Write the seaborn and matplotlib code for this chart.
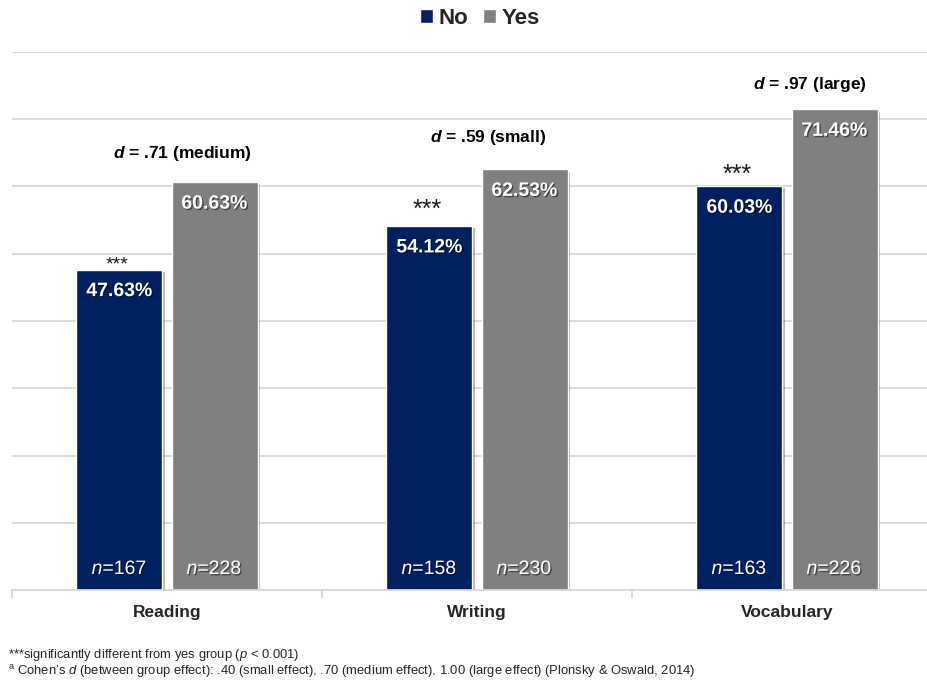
import matplotlib
matplotlib.use('Agg')
import matplotlib.pyplot as plt
import matplotlib.patheffects as pe
import seaborn as sns
import pandas as pd

# Data
skills = ['Reading', 'Writing', 'Vocabulary']
groups = ['No', 'Yes']
pct_no = [47.63, 54.12, 60.03]
pct_yes = [60.63, 62.53, 71.46]
n_no = [167, 158, 163]
n_yes = [228, 230, 226]
effect_d = ['.71 (medium)', '.59 (small)', '.97 (large)']
palette = {'No': '#002060', 'Yes': '#808080'}

df = pd.DataFrame({
    'skill': skills * 2,
    'group': ['No'] * len(skills) + ['Yes'] * len(skills),
    'pct': pct_no + pct_yes,
})

sns.set_style('white')
plt.rcParams['font.family'] = ['Liberation Sans', 'DejaVu Sans']
plt.rcParams['mathtext.fontset'] = 'custom'
plt.rcParams['mathtext.rm'] = 'Liberation Sans'
plt.rcParams['mathtext.it'] = 'Liberation Sans:italic'
plt.rcParams['mathtext.bf'] = 'Liberation Sans:bold'
plt.rcParams['mathtext.bfit'] = 'Liberation Sans:italic:bold'

fig = plt.figure(figsize=(9.27, 6.87), dpi=100)
ax = fig.add_axes([12 / 927, 97 / 687, 915 / 927, 538 / 687])

sns.barplot(data=df, x='skill', y='pct', hue='group', order=skills,
            hue_order=groups, palette=palette, width=0.613, gap=0.095,
            saturation=1, ax=ax)

# soft drop shadow on the bars
bar_fx = [pe.SimplePatchShadow(offset=(2, -1.5), shadow_rgbFace='k', alpha=0.28), pe.Normal()]
text_fx = [pe.SimplePatchShadow(offset=(1, -1), shadow_rgbFace='k', alpha=0.45), pe.Normal()]
for cont in ax.containers:
    for bar in cont:
        bar.set_path_effects(bar_fx)

# axes styling
ax.set_yticks(range(0, 81, 10))
ax.set_yticklabels([])
ax.tick_params(axis='y', length=0)
ax.grid(axis='y', color='#d9d9d9', lw=1.3)
ax.set_axisbelow(True)
for side in ['left', 'top', 'right']:
    ax.spines[side].set_visible(False)
ax.spines['bottom'].set_color('#d9d9d9')
ax.spines['bottom'].set_linewidth(1.3)
ax.set_xlabel('')
ax.set_ylabel('')
ax.set_xticks([-0.5, 0.5, 1.5, 2.5], minor=True)
ax.tick_params(axis='x', which='major', bottom=False, length=0, pad=11)
ax.tick_params(axis='x', which='minor', bottom=True, length=6, color='#d9d9d9', width=1.3)
for lbl in ax.get_xticklabels():
    lbl.set_fontsize(12.5)
    lbl.set_fontweight('bold')
# limits last, set_xticks widens the view
ax.set_xlim(-0.5, -0.5 + 915 / 310)
ax.set_ylim(0, 80)

# value labels and group sizes inside the bars
for cont, vals, ns in zip(ax.containers, [pct_no, pct_yes], [n_no, n_yes]):
    for bar, v, n in zip(cont, vals, ns):
        x = bar.get_x() + bar.get_width() / 2
        ax.annotate(f'{v:.2f}%', (x, bar.get_height()), xytext=(0, -19),
                    textcoords='offset points', ha='center', va='baseline',
                    color='white', fontsize=14, fontweight='bold', path_effects=text_fx)
        ax.annotate(rf'$\mathit{{n}}$={n}', (x, 0), xytext=(0, 11.5),
                    textcoords='offset points', ha='center', va='baseline',
                    color='white', fontsize=14, path_effects=text_fx)

# significance stars above the "No" bars
star_size = [14, 18, 18]
star_dy = [0, 6.5, 3]
for bar, fs, dy in zip(ax.containers[0], star_size, star_dy):
    x = bar.get_x() + bar.get_width() / 2
    ax.annotate('***', (x, bar.get_height()), xytext=(-1.5, dy),
                textcoords='offset points', ha='center', va='baseline',
                fontsize=fs, color='#1a1a1a')

# effect sizes above the "Yes" bars
d_dx = [-23.4, -26, -18]
d_dy = [17.3, 20, 14.4]
for bar, txt, dx, dy in zip(ax.containers[1], effect_d, d_dx, d_dy):
    x = bar.get_x() + bar.get_width() / 2
    ax.annotate(r'$\mathbfit{d}$ = ' + txt, (x, bar.get_height()), xytext=(dx, dy),
                textcoords='offset points', ha='center', va='baseline',
                fontsize=12.5, fontweight='bold', color='black')

sns.move_legend(ax, 'center', bbox_to_anchor=(480 / 927, 1 - 18 / 687),
                bbox_transform=fig.transFigure, ncol=2, frameon=False, title=None,
                handlelength=0.6, handleheight=0.6, handletextpad=0.25,
                columnspacing=0.65, prop={'size': 16, 'weight': 'bold'})

# footnotes
fig.text(8 / 927, 1 - 655 / 687, '***significantly different from yes group ($\\mathit{p}$ < 0.001)',
         fontsize=9.4, va='center', ha='left')
fig.text(8 / 927, 1 - 672 / 687,
         '$^{\\mathrm{a}}$ Cohen\u2019s $\\mathit{d}$ (between group effect): .40 (small effect), '
         '.70 (medium effect), 1.00 (large effect) (Plonsky & Oswald, 2014)',
         fontsize=9.4, va='center', ha='left')

fig.savefig('out.png', dpi=100)
